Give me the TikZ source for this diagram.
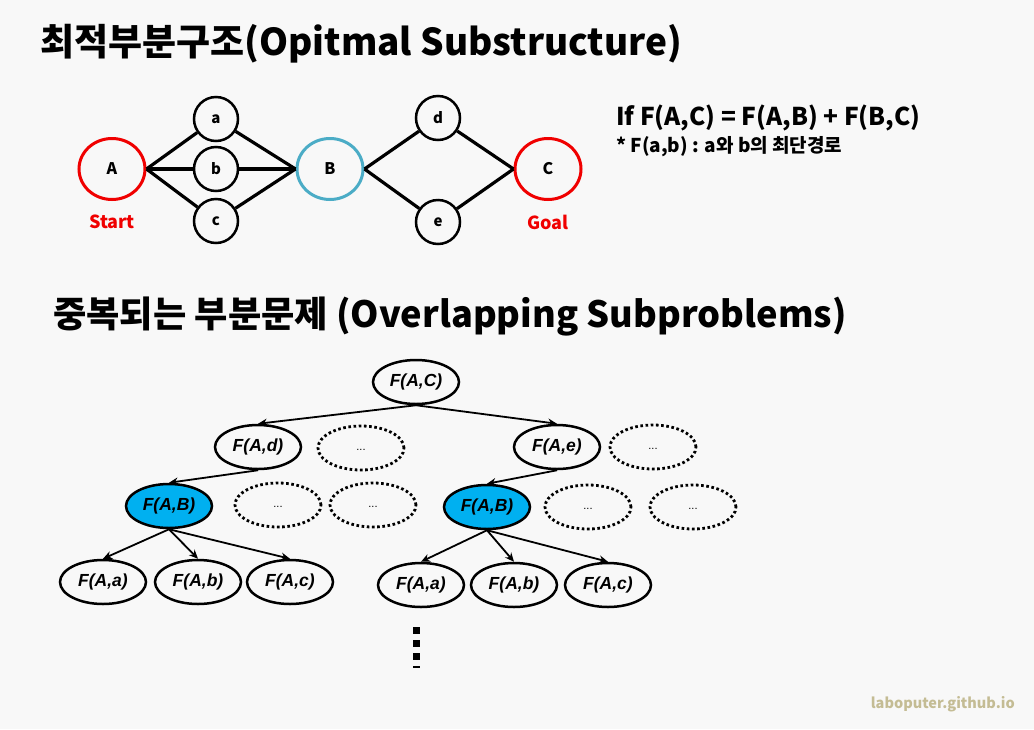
\documentclass[tikz,border=0pt]{standalone}
\usepackage{fontspec}
\usetikzlibrary{shapes.geometric,arrows.meta}
\newfontfamily\kr{Noto Sans CJK KR}
\newfontfamily\lat{Liberation Sans}
\definecolor{bg}{HTML}{F8F8F8}
\definecolor{myred}{HTML}{F00000}
\definecolor{myblue}{HTML}{4BACC6}
\definecolor{abfill}{HTML}{00B0F0}
\definecolor{wm}{HTML}{C4BC94}
\begin{document}
\begin{tikzpicture}[x=1pt,y=-1pt,
  smallc/.style={circle,draw=black,line width=2.5pt,minimum size=44pt,inner sep=0pt,font=\kr\bfseries\fontsize{15}{15}\selectfont},
  bigc/.style={ellipse,draw,line width=3pt,minimum width=66pt,minimum height=61pt,inner sep=0pt,font=\kr\bfseries\fontsize{16}{16}\selectfont},
  gedge/.style={line width=3.2pt,black},
  tn/.style={ellipse,draw=black,line width=2.5pt,minimum width=86pt,minimum height=44pt,inner sep=0pt,font=\lat\bfseries\itshape\fontsize{17.5}{17.5}\selectfont},
  dn/.style={ellipse,draw=black,line width=2.8pt,dash pattern=on 2.6pt off 2.6pt,minimum width=86pt,minimum height=44pt,inner sep=0pt,font=\lat\fontsize{11}{11}\selectfont},
  arr/.style={-{Stealth[length=9pt,width=8pt]},line width=1.8pt},
  lbl/.style={inner sep=0pt,font=\kr\bfseries\fontsize{18}{18}\selectfont,text=myred}
]
\fill[bg] (0,0) rectangle (1034,729);
\useasboundingbox (0,0) rectangle (1034,729);

% Title 1
\node[anchor=base west,inner sep=0pt,font=\kr\bfseries\fontsize{37}{37}\selectfont] (t1) at (40,55) {최적부분구조(Opitmal Substructure)};

% top graph
\node[bigc,draw=myred] (A) at (112,169) {A};
\node[bigc,draw=myblue] (B) at (330,169) {B};
\node[bigc,draw=myred] (C) at (548,169) {C};
\node[smallc] (a) at (216,119) {a};
\node[smallc] (b) at (216,169) {b};
\node[smallc] (c) at (216,221) {c};
\node[smallc] (d) at (438,118) {d};
\node[smallc] (e) at (438,222) {e};
\foreach \n in {a,b,c}{\draw[gedge] (A.east) -- (\n); \draw[gedge] (\n) -- (B.west);}
\foreach \n in {d,e}{\draw[gedge] (B.east) -- (\n); \draw[gedge] (\n) -- (C.west);}
\node[lbl] (start) at (112,222) {Start};
\node[lbl] (goal) at (548,222) {Goal};

% formula
\node[anchor=base west,inner sep=0pt,font=\kr\bfseries\fontsize{24.5}{24.5}\selectfont] (f1) at (616,125) {If F(A,C) = F(A,B) + F(B,C)};
\node[anchor=base west,inner sep=0pt,font=\kr\bfseries\fontsize{19}{19}\selectfont] (f2) at (616,152) {* F(a,b) : a와 b의 최단경로};

% Title 2
\node[anchor=base west,inner sep=0pt,font=\kr\bfseries\fontsize{36.2}{36.2}\selectfont] (t2) at (53,327) {중복되는 부분문제 (Overlapping Subproblems)};

% tree
\node[tn] (FAC) at (416,382) {F(A,C)};
\node[tn] (FAd) at (258,447) {F(A,d)};
\node[dn] (d1) at (361,448) {\raisebox{-5pt}{...}};
\node[tn] (FAe) at (557,447) {F(A,e)};
\node[dn] (d2) at (653,447) {\raisebox{-5pt}{...}};
\node[tn,fill=abfill] (FABl) at (169,506) {F(A,B)};
\node[dn] (d3) at (278,505) {\raisebox{-5pt}{...}};
\node[dn] (d4) at (373,505) {\raisebox{-5pt}{...}};
\node[tn,fill=abfill] (FABr) at (487,507) {F(A,B)};
\node[dn] (d5) at (588,507) {\raisebox{-5pt}{...}};
\node[dn] (d6) at (693,507) {\raisebox{-5pt}{...}};
\node[tn] (Lal) at (103,582) {F(A,a)};
\node[tn] (Lbl) at (198,582) {F(A,b)};
\node[tn] (Lcl) at (290,582) {F(A,c)};
\node[tn] (Ral) at (421,585) {F(A,a)};
\node[tn] (Rbl) at (514,585) {F(A,b)};
\node[tn] (Rcl) at (608,585) {F(A,c)};

\draw[arr] (FAC.south) -- (FAd.north);
\draw[arr] (FAC.south) -- (FAe.north);
\draw[arr] (FAd.south) -- (FABl.north);
\draw[arr] (FAe.south) -- (FABr.north);
\foreach \n in {Lal,Lbl,Lcl}{\draw[arr] (FABl.south) -- (\n.north);}
\foreach \n in {Ral,Rbl,Rcl}{\draw[arr] (FABr.south) -- (\n.north);}

% vertical dots
\fill (413,627) rectangle (420,634);
\fill (413,640) rectangle (420,647);
\fill (413,653) rectangle (420,660);
\fill (413,666) rectangle (420,668);

% watermark
\node[anchor=base east,inner sep=0pt,font=\kr\bfseries\fontsize{14.5}{14.5}\selectfont,text=wm] (wmk) at (1015,708) {laboputer.github.io};
\end{tikzpicture}
\end{document}
